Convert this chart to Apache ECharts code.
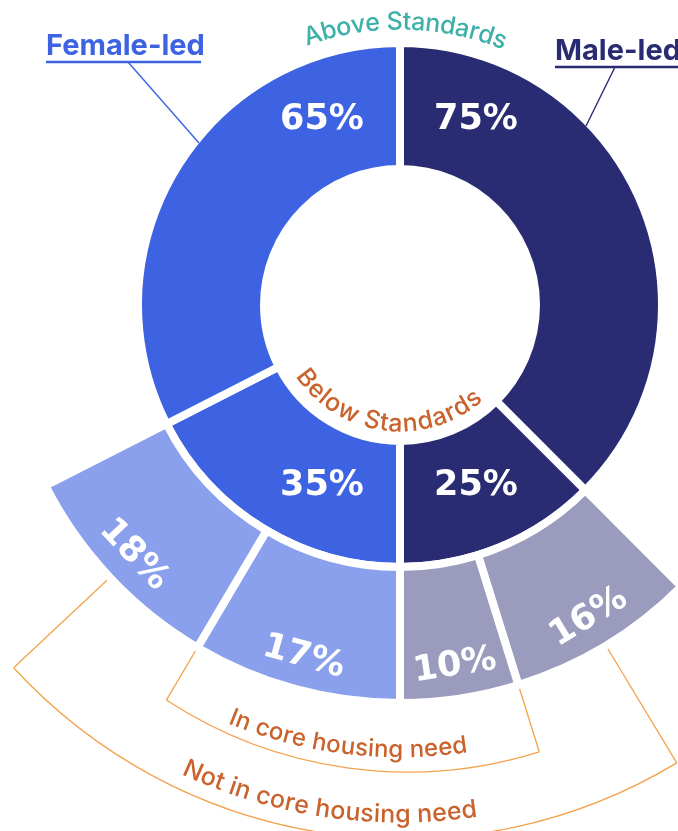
<!DOCTYPE html>
<html>
<head>
<meta charset="utf-8">
<title>Housing standards by household lead</title>
<script src="https://cdn.jsdelivr.net/npm/echarts@6/dist/echarts.min.js"></script>
<style>
  html, body { margin: 0; padding: 0; background: #fff; }
  #chart { width: 678px; height: 831px; }
</style>
</head>
<body>
<div id="chart"></div>
<script>
// share of households (%), index 0 = male-led, 1 = female-led
const groups = ['Male-led', 'Female-led'];
const aboveStandards = [75, 65];
const belowStandards = [25, 35];
const inCoreNeed = [10, 17];
const notInCoreNeed = [16, 18];

const colors = {
  female: '#3D63E3',
  male: '#2A2C73',
  femaleLight: '#8BA0EC',
  maleLight: '#9A9BBD',
  teal: '#3DB0A8',
  orange: '#C9622C',
  bracket: '#F4A24C'
};

const cx = 400, cy = 305;
const pctFont = 'DejaVu Sans';
const txtFont = 'Inter';

// inner ring, clockwise from 12 o'clock
const innerData = [
  { name: 'Male-led, above standards', value: aboveStandards[0], right: true, top: true, itemStyle: { color: colors.male } },
  { name: 'Male-led, below standards', value: belowStandards[0], right: true, top: false, itemStyle: { color: colors.male } },
  { name: 'Female-led, below standards', value: belowStandards[1], right: false, top: false, itemStyle: { color: colors.female } },
  { name: 'Female-led, above standards', value: aboveStandards[1], right: false, top: true, itemStyle: { color: colors.female } }
];

// outer ring: the below-standards split, scaled so each split fills its slice
const split = (i, v) => v * belowStandards[i] / (inCoreNeed[i] + notInCoreNeed[i]);
const gap = { value: 0, itemStyle: { color: 'transparent', borderWidth: 0 }, label: { show: false } };
const outerData = [
  Object.assign({}, gap, { name: 'spacer-m', value: aboveStandards[0] }),
  { name: 'Male-led, not in core housing need', value: split(0, notInCoreNeed[0]), raw: notInCoreNeed[0], itemStyle: { color: colors.maleLight } },
  { name: 'Male-led, in core housing need', value: split(0, inCoreNeed[0]), raw: inCoreNeed[0], itemStyle: { color: colors.maleLight } },
  { name: 'Female-led, in core housing need', value: split(1, inCoreNeed[1]), raw: inCoreNeed[1], itemStyle: { color: colors.femaleLight } },
  { name: 'Female-led, not in core housing need', value: split(1, notInCoreNeed[1]), raw: notInCoreNeed[1], itemStyle: { color: colors.femaleLight } },
  Object.assign({}, gap, { name: 'spacer-f', value: aboveStandards[1] })
];
const total = outerData.reduce((s, d) => s + d.value, 0);

// angle (deg, clockwise from top) at the start of outer item i
const angleAt = i => outerData.slice(0, i).reduce((s, d) => s + d.value, 0) / total * 360;
const midAngle = i => (angleAt(i) + angleAt(i + 1)) / 2;
const polar = (deg, r) => {
  const a = deg * Math.PI / 180;
  return [cx + r * Math.sin(a), cy - r * Math.cos(a)];
};

// ---- curved text helpers ----
const measure = document.createElement('canvas').getContext('2d');
function curvedText(text, font, color, radius, centerDeg, onTop) {
  measure.font = font;
  const width = measure.measureText(text).width;
  const out = [];
  let s = -width / 2;
  for (const ch of text) {
    const w = measure.measureText(ch).width;
    const mid = s + w / 2;
    s += w;
    if (ch === ' ') continue;
    const a = centerDeg * Math.PI / 180 + mid / radius;
    let x, y, rot;
    if (onTop) {
      x = cx + radius * Math.sin(a); y = cy - radius * Math.cos(a); rot = -a;
    } else {
      // measured from the bottom, positive to the right
      x = cx + radius * Math.sin(a); y = cy + radius * Math.cos(a); rot = a;
    }
    out.push({
      type: 'text', x: x, y: y, rotation: rot, z: 20, silent: true,
      style: { text: ch, font: font, fill: color, align: 'center', verticalAlign: 'middle',
               textAlign: 'center', textVerticalAlign: 'middle' }
    });
  }
  return out;
}

// circle through three points -> graphic arc
function arcThrough(p1, p2, p3, color) {
  const [ax, ay] = p1, [bx, by] = p2, [qx, qy] = p3;
  const d = 2 * (ax * (by - qy) + bx * (qy - ay) + qx * (ay - by));
  const ux = ((ax * ax + ay * ay) * (by - qy) + (bx * bx + by * by) * (qy - ay) + (qx * qx + qy * qy) * (ay - by)) / d;
  const uy = ((ax * ax + ay * ay) * (qx - bx) + (bx * bx + by * by) * (ax - qx) + (qx * qx + qy * qy) * (bx - ax)) / d;
  const r = Math.hypot(ax - ux, ay - uy);
  return {
    type: 'arc', z: 10, silent: true,
    shape: { cx: ux, cy: uy, r: r, startAngle: Math.atan2(ay - uy, ax - ux), endAngle: Math.atan2(qy - uy, qx - ux), clockwise: true },
    style: { stroke: color, lineWidth: 1.3, fill: null }
  };
}

// bracket from angle a1 (right end) to a2 (left end), clockwise through the bottom
function bracket(a1, a2, rIn, r1, r2, rBottom) {
  const p1 = polar(a1, r1), p2 = polar(180, rBottom), p3 = polar(a2, r2);
  const s1 = polar(a1, rIn), s2 = polar(a2, rIn);
  const line = (a, b) => ({
    type: 'line', z: 10, silent: true,
    shape: { x1: a[0], y1: a[1], x2: b[0], y2: b[1] },
    style: { stroke: colors.bracket, lineWidth: 1.3 }
  });
  return [line(s1, p1), line(s2, p3), arcThrough(p1, p2, p3, colors.bracket)];
}

// group name with underline and leader line
function groupLabel(text, color, x, y, underline, leader) {
  return [
    { type: 'text', x: x, y: y, z: 20, silent: true,
      style: { text: text, font: 'bold 29px ' + txtFont, fill: color, align: 'left', verticalAlign: 'middle',
               textAlign: 'left', textVerticalAlign: 'middle' } },
    { type: 'line', z: 20, silent: true, shape: { x1: underline[0], y1: underline[1], x2: underline[2], y2: underline[1] },
      style: { stroke: color, lineWidth: 2.5 } },
    { type: 'line', z: 20, silent: true, shape: { x1: leader[0], y1: leader[1], x2: leader[2], y2: leader[3] },
      style: { stroke: color, lineWidth: 1.4 } }
  ];
}

const curveFont = '500 25px ' + txtFont;
const graphics = [].concat(
  curvedText('Above Standards', curveFont, colors.teal, 283, 1, true),
  curvedText('Below Standards', curveFont, colors.orange, 119, -7.5, false),
  curvedText('In core housing need', '500 24px ' + txtFont, colors.orange, 445, -6.9, false),
  curvedText('Not in core housing need', curveFont, colors.orange, 510, -8.2, false),
  // in core: spans the two in-core slices
  bracket(angleAt(2), angleAt(4), 402, 468, 459, 467),
  // not in core: from the middle of one not-in-core slice to the other
  bracket(midAngle(1), midAngle(4), 402, 535, 530, 534),
  groupLabel(groups[1], colors.female, 46, 46, [46, 62, 201], [128, 62, 199, 143]),
  groupLabel(groups[0], colors.male, 555, 51, [555, 67, 678], [615, 67, 586, 126])
);

const pctLabel = {
  color: '#fff',
  fontFamily: pctFont,
  fontWeight: 'bold',
  fontSize: 35
};

const chart = echarts.init(document.getElementById('chart'));
chart.setOption({
  animation: false,
  backgroundColor: '#fff',
  series: [
    {
      type: 'pie',
      name: 'Housing standards',
      center: [cx, cy],
      radius: [136, 262],
      startAngle: 90,
      clockwise: true,
      avoidLabelOverlap: false,
      silent: true,
      itemStyle: { borderColor: '#fff', borderWidth: 8 },
      label: Object.assign({ show: true, position: 'inside', formatter: p => p.value + '%' }, pctLabel),
      labelLine: { show: false },
      labelLayout: p => {
        const d = innerData[p.dataIndex];
        return { x: cx + (d.right ? 76 : -78), y: cy + (d.top ? -185 : 181), align: 'center', verticalAlign: 'middle' };
      },
      data: innerData
    },
    {
      type: 'pie',
      name: 'Core housing need',
      center: [cx, cy],
      radius: [262, 398],
      startAngle: 90,
      clockwise: true,
      silent: true,
      itemStyle: { borderColor: '#fff', borderWidth: 8 },
      label: { show: false },
      labelLine: { show: false },
      data: outerData
    },
    {
      // label carrier for the outer ring, puts text in the outer part of the band
      type: 'pie',
      name: 'Core housing need labels',
      center: [cx, cy],
      radius: [326, 398],
      startAngle: 90,
      clockwise: true,
      silent: true,
      avoidLabelOverlap: false,
      itemStyle: { color: 'transparent', borderWidth: 0 },
      label: Object.assign({ show: true, position: 'inside', rotate: 'tangential', formatter: p => p.data.raw + '%' }, pctLabel),
      labelLine: { show: false },
      data: outerData.map(d => d.raw === undefined
        ? { name: d.name, value: d.value, label: { show: false } }
        : { name: d.name, value: d.value, raw: d.raw })
    }
  ],
  graphic: { elements: graphics }
});
window.addEventListener('resize', () => chart.resize());
</script>
</body>
</html>
